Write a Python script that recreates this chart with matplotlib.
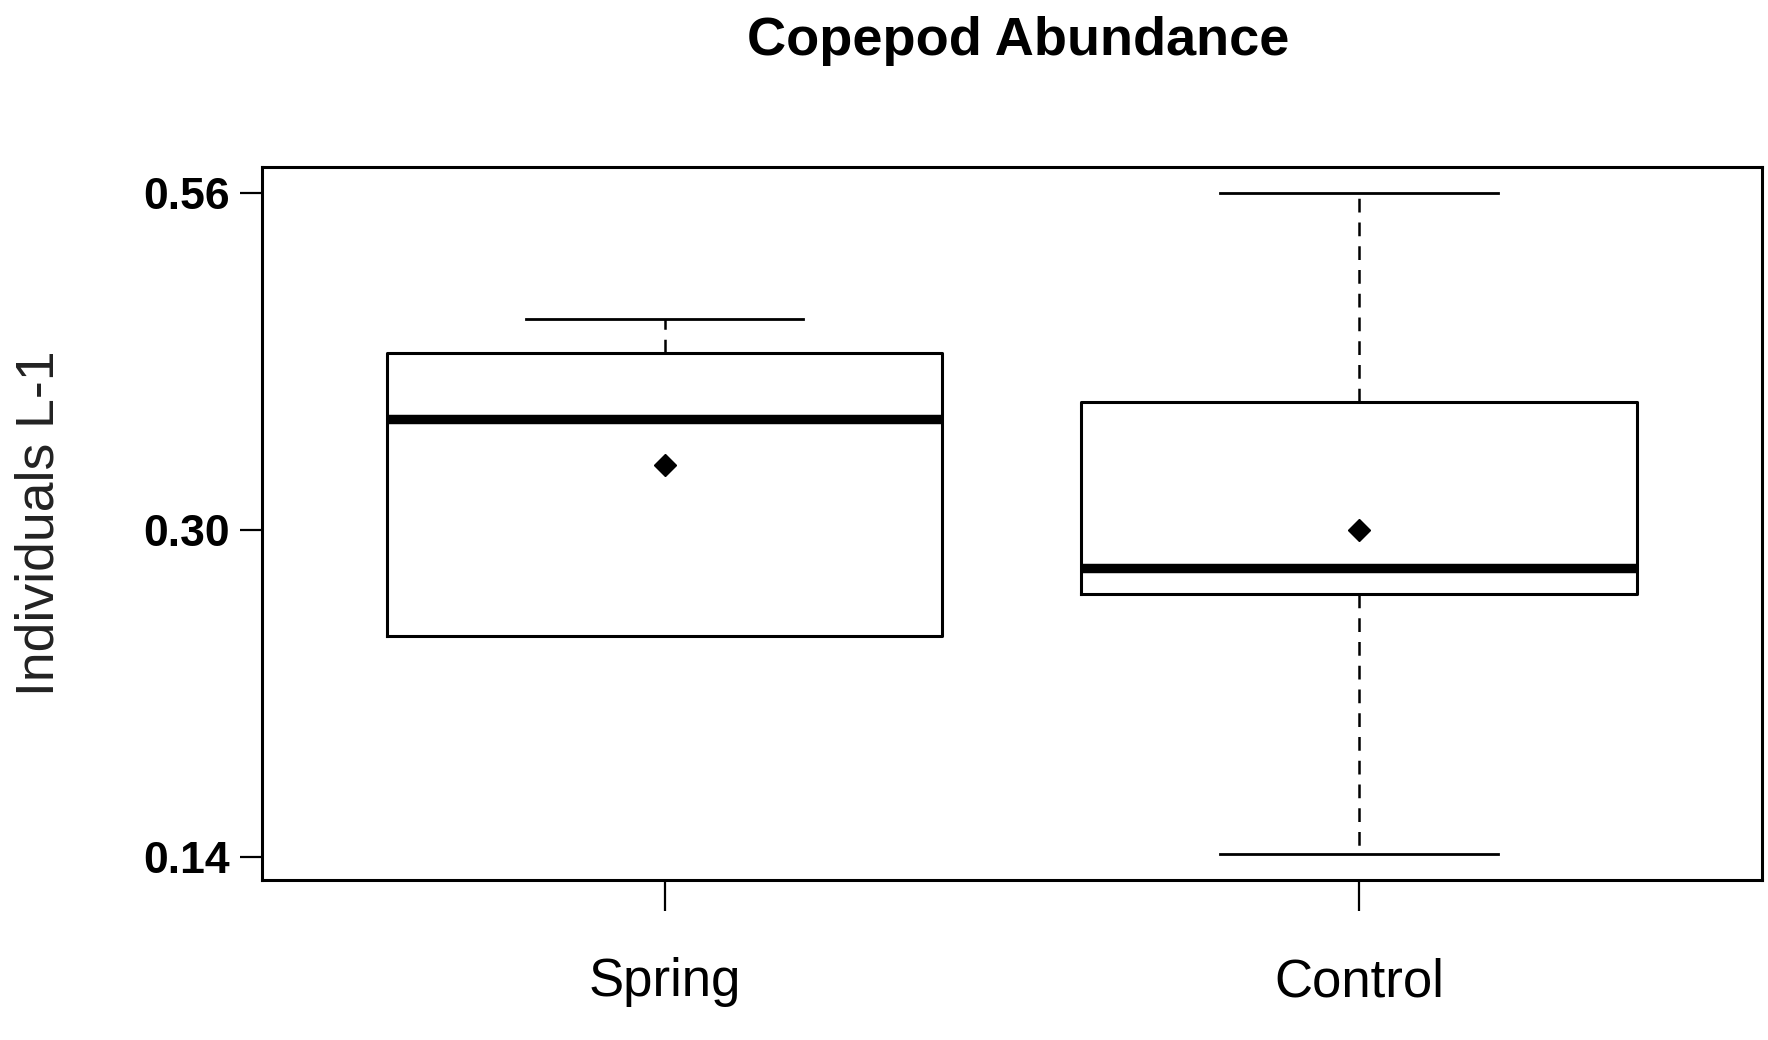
import matplotlib
matplotlib.use("Agg")
import matplotlib.pyplot as plt
import numpy as np

plt.rcParams["font.family"] = ["Liberation Sans", "DejaVu Sans"]

# Seasons and their box statistics (individuals per litre)
groups = ["Spring", "Control"]
whisker_low = [0.239, 0.141]
quartile_1 = [0.239, 0.262]
medians = [0.374, 0.277]
quartile_3 = [0.423, 0.386]
whisker_high = [0.450, 0.560]
means = [0.342, 0.300]

ytick_values = [0.14, 0.30, 0.56]
ytick_labels = ["0.14", "0.30", "0.56"]

stats = []
for i, name in enumerate(groups):
    stats.append(
        dict(
            label=name,
            whislo=whisker_low[i],
            q1=quartile_1[i],
            med=medians[i],
            q3=quartile_3[i],
            whishi=whisker_high[i],
            fliers=[],
        )
    )

fig = plt.figure(figsize=(17.68, 10.40), dpi=100)
ax = fig.add_axes([0.148, 0.1543, 0.8486, 0.6851])

# y axis drawn on a cube-root scale
ax.set_yscale("function", functions=(np.cbrt, lambda v: v ** 3))

positions = np.arange(1, len(groups) + 1)
ax.bxp(
    stats,
    positions=positions,
    widths=0.8,
    showfliers=False,
    boxprops=dict(color="black", linewidth=2.2),
    medianprops=dict(color="black", linewidth=6.8, solid_capstyle="butt"),
    whiskerprops=dict(color="black", linewidth=1.8, linestyle=(0, (5.5, 4))),
    capprops=dict(color="black", linewidth=2.0),
    capwidths=0.4,
)
ax.plot(positions, means, linestyle="none", marker="D", markersize=11,
        color="black")

ax.set_xlim(0.42, 2.58)
ax.set_ylim(0.1317, 0.5847)
ax.set_yticks(ytick_values)
ax.set_yticklabels(ytick_labels, fontsize=32, fontweight="bold")
ax.yaxis.set_minor_locator(plt.NullLocator())
ax.set_xticks(positions)
ax.set_xticklabels(groups, fontsize=38)

ax.tick_params(axis="y", length=16, width=1.6, pad=7)
ax.tick_params(axis="x", length=22, width=1.6, pad=34)
for sp in ax.spines.values():
    sp.set_linewidth(2.2)

ax.set_ylabel("Individuals L-1", fontsize=38.5, color="#222222", va="center")
ax.yaxis.set_label_coords(-0.148, 0.5)

fig.text(0.5758, 0.961, "Copepod Abundance", ha="center", va="center",
         fontsize=39, fontweight="bold")

fig.savefig("out.png", dpi=100, facecolor="white")
